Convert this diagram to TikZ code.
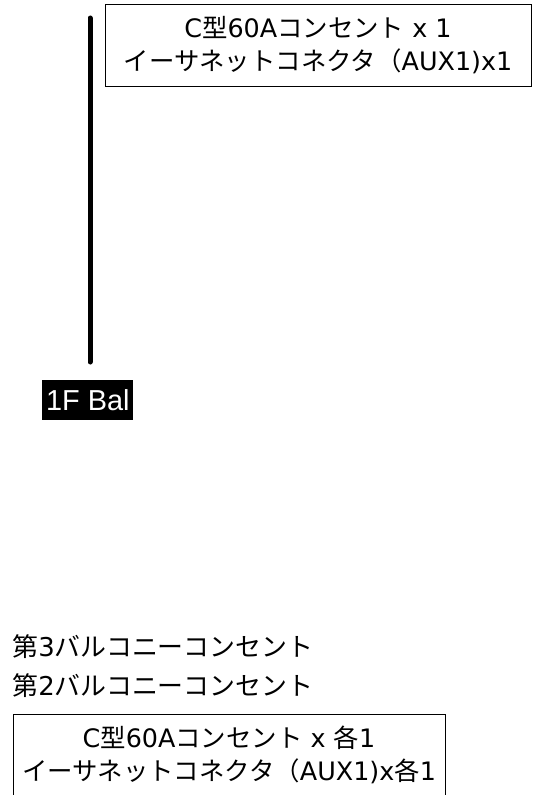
\documentclass[tikz,border=0pt]{standalone}
\usepackage{fontspec}
\setmainfont{DejaVu Sans}
\newfontfamily\jpfont{Noto Sans CJK JP}
\newfontfamily\tagfont{Liberation Sans}
\newcommand{\ja}[1]{{\jpfont #1}}

\begin{document}
\begin{tikzpicture}[x=1bp,y=-1bp]
\tikzstyle{every path}=[thick]
\tikzstyle{outletbox}=[draw,align=center,inner sep=0pt,minimum height=82bp,font=\fontsize{25.5}{33.5}\selectfont]
\tikzstyle{baltext}=[anchor=west,inner sep=0pt,font=\fontsize{26}{30}\selectfont]

\useasboundingbox (0,0) rectangle (539,795);

% upper balcony
\node [outletbox,minimum width=426bp] (box1) at (318,45)
    {C\ja{型}60A\ja{コンセント} x 1\\\ja{イーサネットコネクタ（}AUX1)x1};
\coordinate (riser top) at (90,18);
\coordinate (riser bot) at (90,362);
\draw[line width=5bp,line cap=round] (riser top) -- (riser bot);
\node [fill=black,text=white,inner sep=0pt,minimum width=91bp,minimum height=40bp,
    anchor=north west,font=\tagfont\fontsize{29}{32}\selectfont] (bal) at (42,380) {1F Bal};

% lower balconies
\node [baltext] (bal3) at (12,647) {\ja{第}3\ja{バルコニーコンセント}};
\node [baltext] (bal2) at (12,686) {\ja{第}2\ja{バルコニーコンセント}};
\node [outletbox,minimum width=432bp] (box2) at (229,755)
    {C\ja{型}60A\ja{コンセント} x \ja{各}1\\\ja{イーサネットコネクタ（}AUX1)x\ja{各}1};
\end{tikzpicture}
\end{document}
